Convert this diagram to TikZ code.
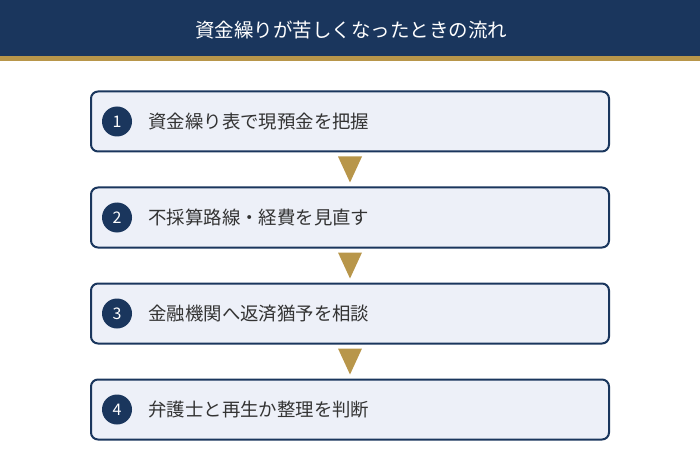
\documentclass[tikz,border=0pt]{standalone}
\usepackage{fontspec}
\setmainfont{Noto Sans CJK JP}
\usetikzlibrary{positioning}
\definecolor{navy}{HTML}{1A365D}
\definecolor{gold}{HTML}{B8964A}
\definecolor{pale}{HTML}{EDF0F8}
\definecolor{ink}{HTML}{333333}
\newcommand{\lbl}{\fontsize{18.4}{21}\selectfont}

\begin{document}
\begin{tikzpicture}[x=1pt,y=-1pt,
  stepbox/.style={draw=navy, line width=2pt, fill=pale, rounded corners=7pt,
    minimum width=518pt, minimum height=60pt, inner sep=0pt},
  numdot/.style={circle, fill=navy, text=white, minimum size=30pt, inner sep=0pt,
    font=\fontsize{16}{18}\selectfont},
  steptext/.style={anchor=west, text=ink, inner sep=0pt, font=\lbl}]
  \useasboundingbox (0,0) rectangle (700,470);
  % header
  \fill[navy] (0,0) rectangle (700,56);
  \fill[gold] (0,56) rectangle (700,61);
  \node[text=white, font=\fontsize{19.5}{22}\selectfont] (title) at (351,30) {資金繰りが苦しくなったときの流れ};
  % steps
  \foreach \i/\t in {1/資金繰り表で現預金を把握, 2/不採算路線・経費を見直す,
                     3/金融機関へ返済猶予を相談, 4/弁護士と再生か整理を判断} {
    \node[stepbox] (s\i) at (350,{121.5+96*(\i-1)}) {};
    \node[numdot] (n\i) at (117,{121.5+96*(\i-1)}) {\i};
    \node[steptext, right=16pt of n\i] (t\i) {\t};
  }
  % arrows
  \foreach \i [evaluate=\i as \j using int(\i+1)] in {1,2,3}
    \fill[gold] ([xshift=-12pt,yshift=-4pt]s\i.south) -- ([xshift=12pt,yshift=-4pt]s\i.south)
      -- ([yshift=4pt]s\j.north) -- cycle;
\end{tikzpicture}
\end{document}
